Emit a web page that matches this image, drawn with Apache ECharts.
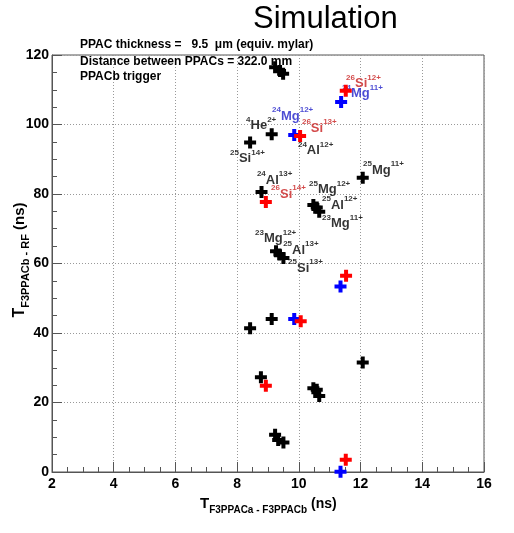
<!DOCTYPE html>
<html><head><meta charset="utf-8">
<script src="https://cdn.jsdelivr.net/npm/echarts@6/dist/echarts.min.js"></script>
<style>html,body{margin:0;padding:0;background:#fff}#c{width:514px;height:533px}</style>
</head><body><div id="c"></div>
<script>
// ---- data ----
const xTicks = [2, 4, 6, 8, 10, 12, 14, 16];
const yTicks = [0, 20, 40, 60, 80, 100, 120];
const blackPts = [[9.23,116.5],[9.39,115.4],[9.49,114.6],[9.12,97.2],[8.42,94.8],[12.07,84.7],[8.79,80.6],
  [10.47,76.8],[10.58,76.1],[10.66,74.9],[9.26,63.5],[9.37,62.6],[9.50,61.6],[8.42,41.4],[9.12,44.0],
  [12.07,31.5],[8.77,27.3],[10.47,24.1],[10.58,23.7],[10.66,21.9],[9.23,10.7],[9.33,9.2],[9.50,8.5]];
const bluePts = [[11.37,106.5],[9.85,97.0],[11.35,53.4],[9.85,44.0],[11.35,0.1]];
const redPts = [[11.52,109.7],[10.04,96.7],[8.93,77.7],[11.53,56.5],[10.06,43.4],[8.93,24.8],[11.52,3.5]];
// nuclide annotations: [x, y, mass, element, charge, group]
const nuclides = [
  [11.53,111.7,'26','Si','12+','r'],
  [11.40,108.8,'24','Mg','11+','b'],
  [9.13,102.4,'24','Mg','12+','b'],
  [8.29,99.6,'4','He','2+','k'],
  [10.10,99.0,'26','Si','13+','r'],
  [9.97,92.4,'24','Al','12+','k'],
  [7.77,90.1,'25','Si','14+','k'],
  [12.08,86.9,'25','Mg','11+','k'],
  [8.64,84.0,'24','Al','13+','k'],
  [9.10,80.0,'26','Si','14+','r'],
  [10.33,81.2,'25','Mg','12+','k'],
  [10.75,76.8,'25','Al','12+','k'],
  [10.75,71.4,'23','Mg','11+','k'],
  [8.58,67.1,'23','Mg','12+','k'],
  [9.49,63.9,'25','Al','13+','k'],
  [9.65,58.7,'25','Si','13+','k']
];
const infoLines = ['PPAC thickness =   9.5  \u03bcm (equiv. mylar)', 'Distance between PPACs = 322.0 mm', 'PPACb trigger'];

// ---- chart ----
const FONT = '"Liberation Sans", Arial, Helvetica, sans-serif';
const cross = 'path://M4,0H8V4H12V8H8V12H4V8H0V4H4Z';
const labelColors = {k:'#000000', r:'#c81e1e', b:'#1e1ec8'};
function richFor(c){
  return {
    m:{fontSize:8, fontWeight:'bold', lineHeight:9, verticalAlign:'top', color:c, fontFamily:FONT},
    e:{fontSize:13, fontWeight:'bold', lineHeight:20, verticalAlign:'middle', color:c, fontFamily:FONT},
    q:{fontSize:8, fontWeight:'bold', lineHeight:9, verticalAlign:'top', color:c, fontFamily:FONT}
  };
}
const labelSeries = ['k','r','b'].map(g => ({
  type:'scatter', z:2, symbolSize:0.01, silent:true,
  data: nuclides.filter(n => n[5] === g).map(n => ({value:[n[0], n[1]], nm:n})),
  label:{show:true, position:'right', distance:0,
    formatter: p => '{m|' + p.data.nm[2] + '}{e|' + p.data.nm[3] + '}{q|' + p.data.nm[4] + '}',
    rich: richFor(labelColors[g])}
}));
function markerSeries(pts, color){
  return {type:'scatter', z:5, symbol:cross, symbolSize:12, data:pts,
    itemStyle:{color:color, opacity:1}};
}
const axisLbl = {color:'#000', fontFamily:FONT, fontWeight:'bold', fontSize:14};
const option = {
  animation:false,
  backgroundColor:'#fff',
  grid:{left:52, right:30, top:55, bottom:61, show:true, borderColor:'#555', borderWidth:1},
  xAxis:{type:'value', min:xTicks[0], max:xTicks[xTicks.length-1], interval:xTicks[1]-xTicks[0],
    axisLine:{show:true, lineStyle:{color:'#555'}},
    axisTick:{show:true, inside:true, length:10, lineStyle:{color:'#555'}},
    minorTick:{show:true, splitNumber:4, length:5, lineStyle:{color:'#555'}},
    splitLine:{show:true, lineStyle:{color:'#999', type:[1,2], width:1}},
    axisLabel:Object.assign({margin:5}, axisLbl)},
  yAxis:{type:'value', min:yTicks[0], max:yTicks[yTicks.length-1], interval:yTicks[1]-yTicks[0],
    axisLine:{show:true, lineStyle:{color:'#555'}},
    axisTick:{show:true, inside:true, length:10, lineStyle:{color:'#555'}},
    minorTick:{show:true, splitNumber:4, length:5, lineStyle:{color:'#555'}},
    splitLine:{show:true, lineStyle:{color:'#999', type:[1,2], width:1}},
    axisLabel:Object.assign({margin:3}, axisLbl)},
  series: labelSeries.concat([
    markerSeries(blackPts, '#000000'),
    markerSeries(bluePts, '#0000ff'),
    markerSeries(redPts, '#ff0000')
  ]),
  graphic:[
    {type:'text', left:253, top:4, z:10, style:{text:'Simulation', font:'31px ' + FONT, fill:'#000'}},
    ...infoLines.map((t,i) => ({type:'text', x:80, y:[45,62,77][i], z:10,
      style:{text:t, font:'bold 12px ' + FONT, fill:'#000', verticalAlign:'middle'}})),
    {type:'text', x:200, y:504, z:10, style:{
      text:'{t|T}{s|F3PPACa - F3PPACb}{n| (ns)}', align:'left', verticalAlign:'middle',
      rich:{t:{fontSize:15, fontWeight:'bold', fontFamily:FONT, lineHeight:22, verticalAlign:'middle'},
            s:{fontSize:10, fontWeight:'bold', fontFamily:FONT, lineHeight:10, verticalAlign:'bottom'},
            n:{fontSize:14, fontWeight:'bold', fontFamily:FONT, lineHeight:22, verticalAlign:'middle'}}}},
    {type:'text', x:20, y:260, rotation:Math.PI/2, z:10, style:{
      text:'{t|T}{s|F3PPACb - RF}{n| (ns)}', align:'center', verticalAlign:'middle',
      rich:{t:{fontSize:16, fontWeight:'bold', fontFamily:FONT, lineHeight:22, verticalAlign:'middle'},
            s:{fontSize:11, fontWeight:'bold', fontFamily:FONT, lineHeight:11, verticalAlign:'bottom'},
            n:{fontSize:15, fontWeight:'bold', fontFamily:FONT, lineHeight:22, verticalAlign:'middle'}}}}
  ]
};
echarts.init(document.getElementById('c'), null, {renderer:'canvas'}).setOption(option);
</script></body></html>
